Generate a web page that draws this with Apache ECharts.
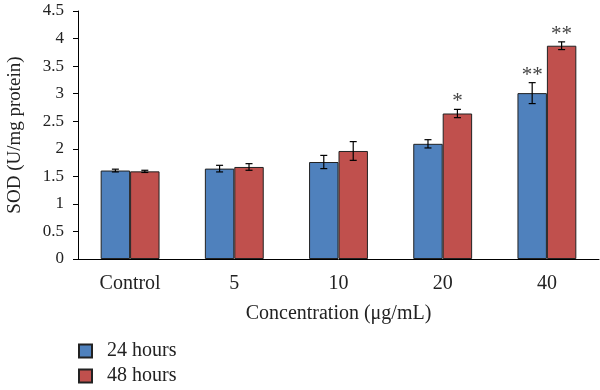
<!DOCTYPE html>
<html><head><meta charset="utf-8">
<script src="https://cdn.jsdelivr.net/npm/echarts@6/dist/echarts.min.js"></script>
<style>html,body{margin:0;padding:0;background:#fff}#c{width:600px;height:390px}</style>
</head><body><div id="c"></div>
<script>
const categories = ['Control', '5', '10', '20', '40'];
const seriesNames = ['24 hours', '48 hours'];
const values24 = [1.605, 1.64, 1.76, 2.09, 3.01];
const values48 = [1.59, 1.67, 1.96, 2.64, 3.87];
const err24 = [0.025, 0.06, 0.12, 0.075, 0.19];
const err48 = [0.02, 0.06, 0.17, 0.075, 0.07];
const stars24 = ['', '', '', '', '**'];
const stars48 = ['', '', '', '*', '**'];
const yTicks = [0, 0.5, 1, 1.5, 2, 2.5, 3, 3.5, 4, 4.5];

const FONT = 'Liberation Serif';
const COLORS = ['#4f81bd', '#c0504d'];
const GAP = 0.435;
const TXT = '#222';

function errSeries(idx, vals, errs, stars) {
  return {
    type: 'custom',
    z: 10,
    data: vals.map((v, i) => [i, v, errs[i]]),
    renderItem: function (params, api) {
      const i = api.value(0), v = api.value(1), e = api.value(2);
      const star = stars[i];
      const band = api.size([1, 0])[0];
      const bw = band * (1 - GAP) / 2;
      const c = api.coord([i, v]);
      const x = c[0] + (idx === 0 ? -bw / 2 : bw / 2);
      const yHi = api.coord([i, v + e])[1];
      const yLo = api.coord([i, v - e])[1];
      const cap = 3.5;
      const st = { stroke: '#000', lineWidth: 1.2 };
      const children = [
        { type: 'line', shape: { x1: x, y1: yHi, x2: x, y2: yLo }, style: st },
        { type: 'line', shape: { x1: x - cap, y1: yHi, x2: x + cap, y2: yHi }, style: st },
        { type: 'line', shape: { x1: x - cap, y1: yLo, x2: x + cap, y2: yLo }, style: st }
      ];
      if (star) {
        children.push({ type: 'text', style: { text: star, x: x, y: yHi - 18, align: 'center', verticalAlign: 'top', font: '21px "' + FONT + '"', fill: '#444' } });
      }
      return { type: 'group', children: children };
    }
  };
}

const chart = echarts.init(document.getElementById('c'));
chart.setOption({
  animation: false,
  textStyle: { fontFamily: FONT },
  grid: { left: 78, right: 1, top: 11, bottom: 131, containLabel: false, outerBoundsMode: 'none' },
  legend: {
    orient: 'vertical', left: 78, top: 341, padding: 0, itemWidth: 13, itemHeight: 13, itemGap: 5,
    icon: 'rect',
    textStyle: { fontFamily: FONT, fontSize: 20, color: TXT, padding: [0, 0, 0, 10] },
    data: seriesNames
  },
  xAxis: {
    type: 'category', data: categories,
    axisLine: { lineStyle: { color: '#000', width: 1 } },
    axisTick: { length: 5, lineStyle: { color: '#000' } },
    axisLabel: { fontFamily: FONT, fontSize: 20, color: TXT, margin: 15 },
    name: 'Concentration (μg/mL)',
    nameLocation: 'middle', nameGap: 45,
    nameTextStyle: { fontFamily: FONT, fontSize: 20, color: TXT }
  },
  yAxis: {
    type: 'value', min: yTicks[0], max: yTicks[yTicks.length - 1], interval: 0.5,
    axisLine: { show: true, lineStyle: { color: '#000', width: 1 } },
    axisTick: { show: true, length: 5, lineStyle: { color: '#000' } },
    splitLine: { show: false },
    axisLabel: { fontFamily: FONT, fontSize: 17, color: TXT, margin: 14 },
    name: 'SOD (U/mg protein)',
    nameLocation: 'middle', nameGap: 53,
    nameTextStyle: { fontFamily: FONT, fontSize: 19, color: TXT }
  },
  series: [
    { name: seriesNames[0], type: 'bar', data: values24, barGap: '0%', barCategoryGap: (GAP * 100) + '%',
      itemStyle: { color: COLORS[0], borderColor: '#222', borderWidth: 1 } },
    { name: seriesNames[1], type: 'bar', data: values48, barGap: '0%', barCategoryGap: (GAP * 100) + '%',
      itemStyle: { color: COLORS[1], borderColor: '#222', borderWidth: 1 } },
    errSeries(0, values24, err24, stars24),
    errSeries(1, values48, err48, stars48)
  ]
});
</script></body></html>
